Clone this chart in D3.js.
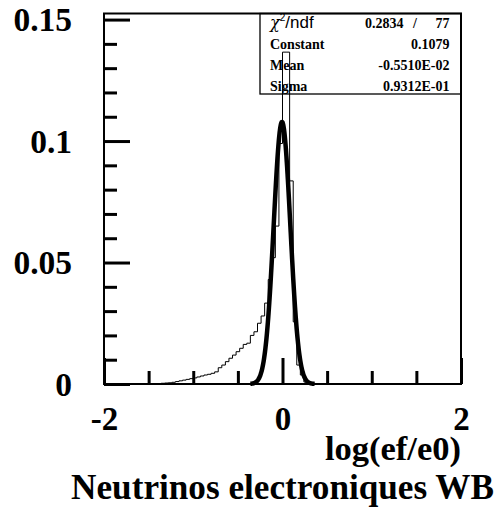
<!DOCTYPE html>
<html>
<head>
<meta charset="utf-8">
<script src="https://cdn.jsdelivr.net/npm/d3@7"></script>
<style>
  body { margin: 0; background: #fff; }
  svg { display: block; }
  .tick-label { font-family: "Liberation Serif", "Times New Roman", serif; font-weight: bold; }
  .stat { font-family: "Liberation Serif", "Times New Roman", serif; font-weight: bold; font-size: 14px; }
</style>
</head>
<body>
<div id="wrapper"></div>
<script>
// histogram of log(ef/e0), 100 bins of 0.04 between -2 and 2
const xRange = [-2, 2];
const binWidth = 0.04;
const histValues = [
  0, 0, 0, 0, 0, 0, 0, 0, 0, 0,
  0, 0, 0, 0, 0, 0.0002, 0.0003, 0.0004, 0.0005, 0.0007,
  0.001, 0.0013, 0.0016, 0.0019, 0.0022, 0.0025, 0.0029, 0.0033, 0.0037, 0.004,
  0.0044, 0.005, 0.0067, 0.0078, 0.0092, 0.0106, 0.0119, 0.0133, 0.0147, 0.0163,
  0.0168, 0.02, 0.0215, 0.025, 0.028, 0.0333, 0.043, 0.052, 0.065, 0.099,
  0.1366, 0.1366, 0.0836, 0.0256, 0.0078, 0.0037, 0.0008, 0, 0, 0,
  0, 0, 0, 0, 0, 0, 0, 0, 0, 0,
  0, 0, 0, 0, 0, 0, 0, 0, 0, 0,
  0, 0, 0, 0, 0, 0, 0, 0, 0, 0,
  0, 0, 0, 0, 0, 0, 0, 0, 0, 0,
];

// gaussian fit, as printed in the stats box
const fitConstant = 0.1079;
const fitMean = -0.5510e-02;
const fitSigma = 0.9312e-01;
const fitRange = [-0.36, 0.36];

const xMajorTicks = [-2, 0, 2];
const xMajorLabels = ["-2", "0", "2"];
const xMinorTicks = [-1.5, -1, -0.5, 0.5, 1, 1.5];
const yMajorTicks = [0, 0.05, 0.1, 0.15];
const yMajorLabels = ["0", "0.05", "0.1", "0.15"];
const yMinorTicks = [0.01, 0.02, 0.03, 0.04, 0.06, 0.07, 0.08, 0.09, 0.11, 0.12, 0.13, 0.14];
const yTop = 0.1525;

const statNames = ["Constant", "Mean", "Sigma"];
const statValues = ["0.1079", "-0.5510E-02", "0.9312E-01"];
const chi2Value = "0.2834";
const ndfValue = "77";

const xTitle = "log(ef/e0)";
const mainTitle = "Neutrinos electroniques WB";

const dimensions = {
  width: 496,
  height: 513,
  left: 104,
  right: 461,
  top: 13.5,
  bottom: 384,
};

const svg = d3.select("#wrapper")
  .append("svg")
    .attr("width", dimensions.width)
    .attr("height", dimensions.height);

const xScale = d3.scaleLinear()
  .domain(xRange)
  .range([dimensions.left, dimensions.right]);

const yScale = d3.scaleLinear()
  .domain([0, yTop])
  .range([dimensions.bottom, dimensions.top]);

// frame
svg.append("rect")
    .attr("x", dimensions.left)
    .attr("y", dimensions.top)
    .attr("width", dimensions.right - dimensions.left)
    .attr("height", dimensions.bottom - dimensions.top)
    .attr("fill", "none")
    .attr("stroke", "#000")
    .attr("stroke-width", 2);

// axes: ticks point inwards
const styleAxis = (g, width) => {
  g.select(".domain").remove();
  g.selectAll(".tick line").attr("stroke", "#000").attr("stroke-width", width);
};

svg.append("g")
    .attr("transform", `translate(${dimensions.left},0)`)
    .call(d3.axisLeft(yScale).tickValues(yMinorTicks).tickSize(-13).tickFormat(""))
    .call(g => styleAxis(g, 3));

svg.append("g")
    .attr("transform", `translate(${dimensions.left},0)`)
    .call(d3.axisLeft(yScale)
      .tickValues(yMajorTicks)
      .tickSize(-26)
      .tickPadding(32)
      .tickFormat((d, i) => yMajorLabels[i]))
    .call(g => styleAxis(g, 3))
    .call(g => g.selectAll("text")
      .attr("class", "tick-label")
      .attr("font-size", 33.5)
      .attr("font-family", null)
      .attr("dy", "0.34em")
      .attr("fill", "#000"));

svg.append("g")
    .attr("transform", `translate(0,${dimensions.bottom})`)
    .call(d3.axisBottom(xScale).tickValues(xMinorTicks).tickSize(-13).tickFormat(""))
    .call(g => styleAxis(g, 3));

svg.append("g")
    .attr("transform", `translate(0,${dimensions.bottom})`)
    .call(d3.axisBottom(xScale)
      .tickValues(xMajorTicks)
      .tickSize(-26)
      .tickPadding(23)
      .tickFormat((d, i) => xMajorLabels[i]))
    .call(g => styleAxis(g, 3))
    .call(g => g.selectAll("text")
      .attr("class", "tick-label")
      .attr("font-size", 33)
      .attr("font-family", null)
      .attr("fill", "#000"));

// histogram outline
const histPoints = [];
histValues.forEach((v, i) => {
  const x0 = xRange[0] + i * binWidth;
  histPoints.push([x0, v], [x0 + binWidth, v]);
});

const line = d3.line()
  .x(d => xScale(d[0]))
  .y(d => yScale(d[1]));

svg.append("path")
    .attr("d", line(histPoints))
    .attr("fill", "none")
    .attr("stroke", "#000")
    .attr("stroke-width", 1);

// fitted gaussian
const gauss = x => fitConstant * Math.exp(-0.5 * ((x - fitMean) / fitSigma) ** 2);
const fitPoints = d3.range(fitRange[0], fitRange[1] + 1e-9, 0.004).map(x => [x, gauss(x)]);

svg.append("path")
    .attr("d", line.curve(d3.curveBasis)(fitPoints))
    .attr("fill", "none")
    .attr("stroke", "#000")
    .attr("stroke-width", 4.5)
    .attr("stroke-linejoin", "round");

// stats box
const box = { x: 260, y: dimensions.top, w: dimensions.right - 260, h: 80.5 };
svg.append("rect")
    .attr("x", box.x)
    .attr("y", box.y)
    .attr("width", box.w)
    .attr("height", box.h)
    .attr("fill", "none")
    .attr("stroke", "#000")
    .attr("stroke-width", 1.3);

const chiText = svg.append("text")
    .attr("x", 270)
    .attr("y", 28);
chiText.append("tspan")
    .attr("font-family", "'DejaVu Serif', serif")
    .attr("font-style", "italic")
    .attr("font-size", 16)
    .text("χ");
chiText.append("tspan")
    .attr("font-family", "'Liberation Sans', sans-serif")
    .attr("font-size", 10)
    .attr("dy", -7)
    .text("2");
chiText.append("tspan")
    .attr("font-family", "'Liberation Sans', sans-serif")
    .attr("font-size", 17)
    .attr("dy", 7)
    .text("/ndf");

svg.append("text").attr("class", "stat").attr("x", 365).attr("y", 28).text(chi2Value);
svg.append("text").attr("class", "stat").attr("x", 415).attr("y", 28).attr("text-anchor", "middle").text("/");
svg.append("text").attr("class", "stat").attr("x", 449.5).attr("y", 28).attr("text-anchor", "end").text(ndfValue);

statNames.forEach((name, i) => {
  const y = 49 + i * 21;
  svg.append("text").attr("class", "stat").attr("x", 270).attr("y", y).text(name);
  svg.append("text").attr("class", "stat").attr("x", 449.5).attr("y", y)
      .attr("text-anchor", "end").text(statValues[i]);
});

// titles
svg.append("text")
    .attr("class", "tick-label")
    .attr("x", dimensions.right)
    .attr("y", 460)
    .attr("text-anchor", "end")
    .attr("font-size", 34.5)
    .text(xTitle);

svg.append("text")
    .attr("class", "tick-label")
    .attr("x", 494)
    .attr("y", 499)
    .attr("text-anchor", "end")
    .attr("font-size", 35.2)
    .text(mainTitle);
</script>
</body>
</html>
